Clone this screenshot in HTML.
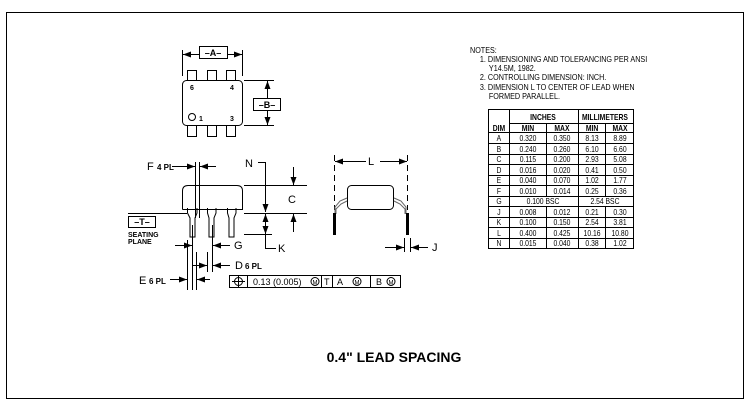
<!DOCTYPE html>
<html><head><meta charset="utf-8"><style>
html,body{margin:0;padding:0;background:#fff}
svg{display:block}
text{font-family:"Liberation Sans",sans-serif;fill:#000}
.t{font-size:8px}
.b{font-weight:bold}
</style></head><body>
<svg width="751" height="413" viewBox="0 0 751 413" xmlns="http://www.w3.org/2000/svg">
<defs>
<marker id="ar" markerWidth="8" markerHeight="6" refX="8" refY="3" orient="auto" markerUnits="userSpaceOnUse"><path d="M0,0L8,3L0,6z" fill="#000"/></marker>
</defs>
<rect x="6.5" y="12.5" width="737" height="386" fill="none" stroke="#000" stroke-width="1"/>
<g stroke="#000" fill="none" stroke-width="1">
<rect x="187.5" y="70.5" width="9" height="10"/><rect x="207.5" y="70.5" width="9" height="10"/><rect x="226.5" y="70.5" width="9" height="10"/>
<rect x="187.5" y="125.5" width="9" height="11"/><rect x="207.5" y="125.5" width="9" height="11"/><rect x="226.5" y="125.5" width="9" height="11"/>
<rect x="182.5" y="80.5" width="60" height="45" rx="4" fill="#fff"/>
<circle cx="192" cy="117" r="3.5"/>
<line x1="182.5" y1="50" x2="182.5" y2="76"/><line x1="242.5" y1="50" x2="242.5" y2="76"/>
<line x1="199" y1="54.5" x2="183" y2="54.5" marker-end="url(#ar)"/><line x1="227" y1="54.5" x2="242" y2="54.5" marker-end="url(#ar)"/>
<rect x="199.5" y="46.5" width="28" height="12"/>
<line x1="244" y1="80.5" x2="274" y2="80.5"/><line x1="244" y1="125.5" x2="274" y2="125.5"/>
<line x1="267.5" y1="98" x2="267.5" y2="81" marker-end="url(#ar)"/><line x1="267.5" y1="110" x2="267.5" y2="125" marker-end="url(#ar)"/>
<rect x="253.5" y="98.5" width="27" height="12"/>
<path d="M187.5,208 V213 L190,218 V237 H195 V218 L197,213 V208"/>
<path d="M207.5,208 V213 L209,218 V237 H214 V218 L216,213 V208"/>
<path d="M227.5,208 V213 L229,218 V237 H234 V218 L236,213 V208"/>
<path d="M182.5,209.5 V191 Q182.5,185.5 188,185.5 H237 Q242.5,185.5 242.5,191 V209.5 H182.5"/>
<line x1="128" y1="213.5" x2="187" y2="213.5"/>
<rect x="128.5" y="216.5" width="27" height="11"/>
<line x1="195.5" y1="162" x2="195.5" y2="218"/><line x1="199.5" y1="162" x2="199.5" y2="218"/>
<line x1="172" y1="166.5" x2="195" y2="166.5" marker-end="url(#ar)"/><line x1="216" y1="166.5" x2="200" y2="166.5" marker-end="url(#ar)"/>
<line x1="192.5" y1="225" x2="192.5" y2="290"/><line x1="212.5" y1="225" x2="212.5" y2="272"/>
<line x1="187.5" y1="240" x2="187.5" y2="290"/><line x1="196.5" y1="252" x2="196.5" y2="290"/>
<line x1="207.5" y1="252" x2="207.5" y2="272"/>
<line x1="175" y1="245.5" x2="192" y2="245.5" marker-end="url(#ar)"/><line x1="230" y1="245.5" x2="213" y2="245.5" marker-end="url(#ar)"/>
<line x1="192" y1="265.5" x2="207" y2="265.5" marker-end="url(#ar)"/><line x1="230" y1="265.5" x2="213" y2="265.5" marker-end="url(#ar)"/>
<line x1="170" y1="279.5" x2="187" y2="279.5" marker-end="url(#ar)"/><line x1="210" y1="279.5" x2="197" y2="279.5" marker-end="url(#ar)"/>
<line x1="244" y1="185.5" x2="307" y2="185.5"/><line x1="244" y1="213.5" x2="307" y2="213.5"/><line x1="244" y1="234.5" x2="272" y2="234.5"/>
<line x1="293.5" y1="167" x2="293.5" y2="185" marker-end="url(#ar)"/><line x1="293.5" y1="232" x2="293.5" y2="214" marker-end="url(#ar)"/>
<polyline points="258,162.5 265.5,162.5 265.5,207" /><line x1="265.5" y1="195" x2="265.5" y2="212" marker-end="url(#ar)"/>
<line x1="265.5" y1="224" x2="265.5" y2="214" marker-end="url(#ar)"/><line x1="265.5" y1="224" x2="265.5" y2="234" marker-end="url(#ar)"/>
<polyline points="265.5,234 265.5,248.5 276,248.5"/>
<rect x="229.5" y="275.5" width="171" height="12"/>
<line x1="247.5" y1="275.5" x2="247.5" y2="287.5"/><line x1="321.5" y1="275.5" x2="321.5" y2="287.5"/><line x1="332.5" y1="275.5" x2="332.5" y2="287.5"/><line x1="370.5" y1="275.5" x2="370.5" y2="287.5"/>
<circle cx="238.5" cy="281.5" r="4"/><line x1="232" y1="281.5" x2="245" y2="281.5"/><line x1="238.5" y1="276" x2="238.5" y2="287"/>
<circle cx="315" cy="281.5" r="4"/><circle cx="357" cy="281.5" r="4"/><circle cx="391" cy="281.5" r="4"/>
<line x1="334.5" y1="155" x2="334.5" y2="210" stroke-dasharray="6,4"/><line x1="407.5" y1="155" x2="407.5" y2="210" stroke-dasharray="6,4"/>
<line x1="366" y1="161.5" x2="335" y2="161.5" marker-end="url(#ar)"/><line x1="380" y1="161.5" x2="407" y2="161.5" marker-end="url(#ar)"/>
<rect x="347.5" y="185.5" width="46" height="24" rx="4"/>
<path d="M347,198 L340,201 L335,207 V214 M347,201 L341,204 L336,209 V214" stroke="#666"/>
<path d="M394,198 L401,201 L406,207 V214 M394,201 L400,204 L405,209 V214" stroke="#666"/>
<line x1="385" y1="247.5" x2="404" y2="247.5" marker-end="url(#ar)"/><line x1="428" y1="247.5" x2="411" y2="247.5" marker-end="url(#ar)"/>
<line x1="404.5" y1="238" x2="404.5" y2="252"/><line x1="410.5" y1="238" x2="410.5" y2="252"/>
</g>
<rect x="333" y="213" width="3" height="22" fill="#000"/><rect x="406" y="213" width="3" height="22" fill="#000"/>
<g class="t b">
<text x="213" y="56" font-size="9" text-anchor="middle">–A–</text>
<text x="267" y="108" font-size="9" text-anchor="middle">–B–</text>
<text x="142" y="225" font-size="9" text-anchor="middle">–T–</text>
<text x="190" y="90" font-size="7">6</text><text x="230" y="90" font-size="7">4</text>
<text x="199" y="121" font-size="7">1</text><text x="230" y="121" font-size="7">3</text>
<text x="128" y="237" font-size="7">SEATING</text><text x="128" y="244" font-size="7">PLANE</text>
<text x="147" y="170" font-size="11" font-weight="normal">F</text><text x="157" y="170" font-size="8">4 PL</text>
<text x="245" y="167" font-size="11" font-weight="normal">N</text>
<text x="288" y="203" font-size="11" font-weight="normal">C</text>
<text x="278" y="252" font-size="11" font-weight="normal">K</text>
<text x="234" y="249" font-size="11" font-weight="normal">G</text>
<text x="235" y="269" font-size="11" font-weight="normal">D</text><text x="245" y="269" font-size="8">6 PL</text>
<text x="139" y="284" font-size="11" font-weight="normal">E</text><text x="149" y="284" font-size="8">6 PL</text>
<text x="368" y="165" font-size="11" font-weight="normal">L</text>
<text x="432" y="251" font-size="11" font-weight="normal">J</text>
</g>
<g font-size="9">
<text x="253" y="285">0.13 (0.005)</text><text x="324" y="285">T</text><text x="337" y="285">A</text><text x="376" y="285">B</text>
<text x="315" y="284.5" font-size="6" text-anchor="middle">M</text><text x="357" y="284.5" font-size="6" text-anchor="middle">M</text><text x="391" y="284.5" font-size="6" text-anchor="middle">M</text>
</g>
<text x="394" y="362" font-size="14" font-weight="bold" text-anchor="middle">0.4" LEAD SPACING</text>
<g font-size="8" transform="translate(470 0) scale(0.9 1)">
<text x="0" y="53">NOTES:</text>
<text x="11" y="62">1. DIMENSIONING AND TOLERANCING PER ANSI</text>
<text x="21" y="71">Y14.5M, 1982.</text>
<text x="11" y="80">2. CONTROLLING DIMENSION: INCH.</text>
<text x="11" y="90">3. DIMENSION L TO CENTER OF LEAD WHEN</text>
<text x="21" y="99">FORMED PARALLEL.</text>
</g>
<g stroke="#000" stroke-width="1" fill="none">
<rect x="488.5" y="109.5" width="145" height="139"/>
<line x1="509.5" y1="109.5" x2="509.5" y2="248.5"/>
<line x1="578.5" y1="109.5" x2="578.5" y2="248.5"/>
<line x1="509.5" y1="123.5" x2="633.5" y2="123.5"/>
<line x1="546.5" y1="123.5" x2="546.5" y2="196.5"/><line x1="546.5" y1="206.5" x2="546.5" y2="248.5"/>
<line x1="605.5" y1="123.5" x2="605.5" y2="196.5"/><line x1="605.5" y1="206.5" x2="605.5" y2="248.5"/>
<line x1="488.5" y1="132.5" x2="633.5" y2="132.5"/>
<line x1="488.5" y1="143.5" x2="633.5" y2="143.5"/>
<line x1="488.5" y1="154.5" x2="633.5" y2="154.5"/>
<line x1="488.5" y1="164.5" x2="633.5" y2="164.5"/>
<line x1="488.5" y1="175.5" x2="633.5" y2="175.5"/>
<line x1="488.5" y1="185.5" x2="633.5" y2="185.5"/>
<line x1="488.5" y1="196.5" x2="633.5" y2="196.5"/>
<line x1="488.5" y1="206.5" x2="633.5" y2="206.5"/>
<line x1="488.5" y1="217.5" x2="633.5" y2="217.5"/>
<line x1="488.5" y1="227.5" x2="633.5" y2="227.5"/>
<line x1="488.5" y1="238.5" x2="633.5" y2="238.5"/>
</g>
<g font-size="8" text-anchor="middle" transform="translate(488 0) scale(0.85 1)">
<text x="64.7" y="120" font-weight="bold">INCHES</text><text x="137.6" y="120" font-weight="bold">MILLIMETERS</text>
<text x="12.9" y="131" font-weight="bold">DIM</text><text x="47" y="131" font-weight="bold">MIN</text><text x="87" y="131" font-weight="bold">MAX</text><text x="122.4" y="131" font-weight="bold">MIN</text><text x="155.3" y="131" font-weight="bold">MAX</text>
<text x="12.9" y="141">A</text><text x="47" y="141">0.320</text><text x="87" y="141">0.350</text><text x="122.4" y="141">8.13</text><text x="155.3" y="141">8.89</text>
<text x="12.9" y="152">B</text><text x="47" y="152">0.240</text><text x="87" y="152">0.260</text><text x="122.4" y="152">6.10</text><text x="155.3" y="152">6.60</text>
<text x="12.9" y="162">C</text><text x="47" y="162">0.115</text><text x="87" y="162">0.200</text><text x="122.4" y="162">2.93</text><text x="155.3" y="162">5.08</text>
<text x="12.9" y="173">D</text><text x="47" y="173">0.016</text><text x="87" y="173">0.020</text><text x="122.4" y="173">0.41</text><text x="155.3" y="173">0.50</text>
<text x="12.9" y="183">E</text><text x="47" y="183">0.040</text><text x="87" y="183">0.070</text><text x="122.4" y="183">1.02</text><text x="155.3" y="183">1.77</text>
<text x="12.9" y="194">F</text><text x="47" y="194">0.010</text><text x="87" y="194">0.014</text><text x="122.4" y="194">0.25</text><text x="155.3" y="194">0.36</text>
<text x="12.9" y="204">G</text><text x="64.7" y="204">0.100 BSC</text><text x="137.6" y="204">2.54 BSC</text>
<text x="12.9" y="215">J</text><text x="47" y="215">0.008</text><text x="87" y="215">0.012</text><text x="122.4" y="215">0.21</text><text x="155.3" y="215">0.30</text>
<text x="12.9" y="225">K</text><text x="47" y="225">0.100</text><text x="87" y="225">0.150</text><text x="122.4" y="225">2.54</text><text x="155.3" y="225">3.81</text>
<text x="12.9" y="236">L</text><text x="47" y="236">0.400</text><text x="87" y="236">0.425</text><text x="122.4" y="236">10.16</text><text x="155.3" y="236">10.80</text>
<text x="12.9" y="246">N</text><text x="47" y="246">0.015</text><text x="87" y="246">0.040</text><text x="122.4" y="246">0.38</text><text x="155.3" y="246">1.02</text>
</g>
</svg>
</body></html>
